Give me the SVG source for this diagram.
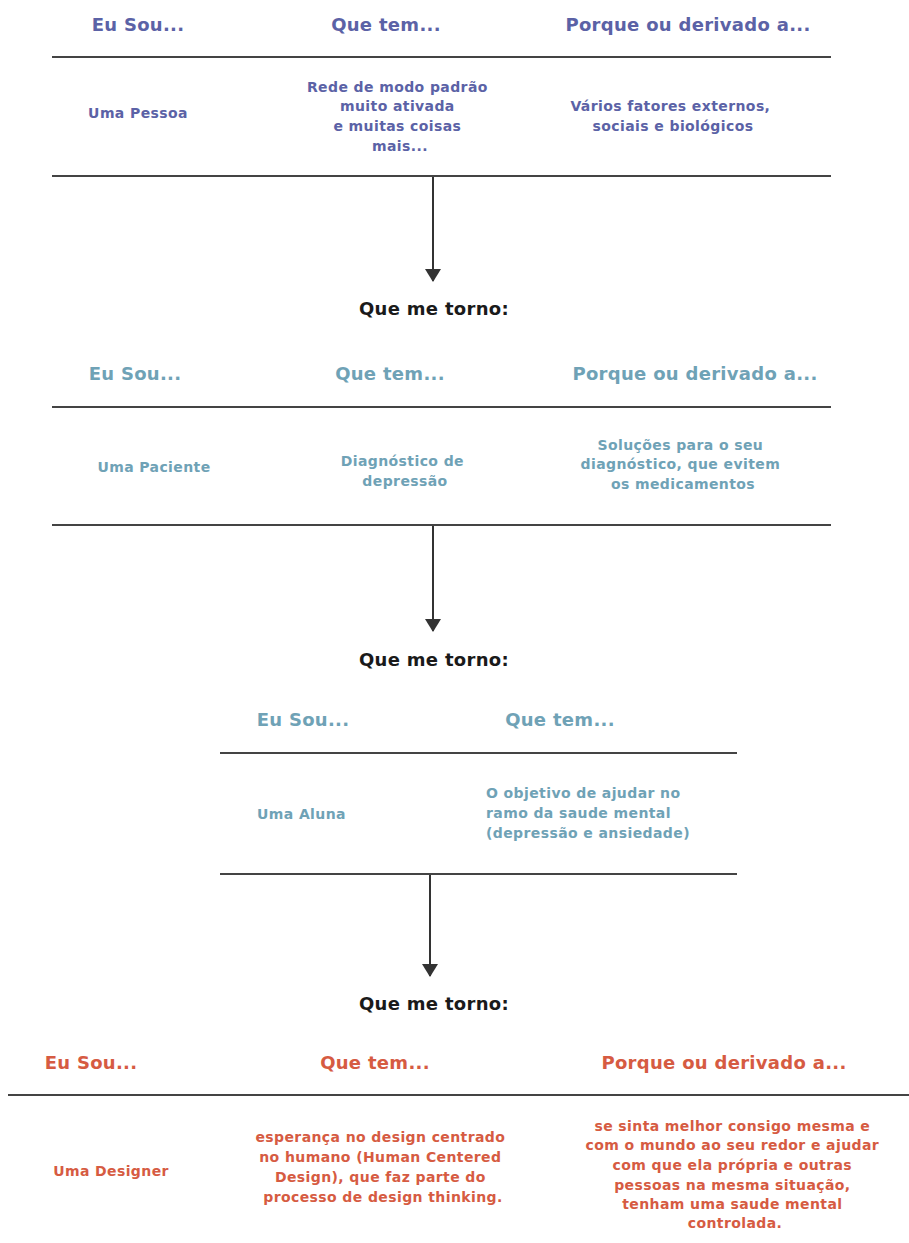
<svg xmlns="http://www.w3.org/2000/svg" width="909" height="1243" viewBox="0 0 909 1243">
  <style>
    text { font-family: "DejaVu Sans", "Liberation Sans", sans-serif; font-weight: bold; }
    .h { font-size: 18px; letter-spacing: 0.3px; }
    .b { font-size: 14px; letter-spacing: 0.4px; }
    .c { text-anchor: middle; }
    .blue { fill: #5b62a6; }
    .teal { fill: #6fa2b6; }
    .red { fill: #d65b42; }
    .step { font-size: 18px; letter-spacing: 0.3px; fill: #1a1a1a; text-anchor: middle; }
    .rule { stroke: #444; stroke-width: 2; }
    .arrow { stroke: #333; stroke-width: 2; fill: none; marker-end: url(#head); }
  </style>
  <defs>
    <!-- filled triangular head, drawn pointing along the line direction -->
    <marker id="head" viewBox="0 0 13 16" refX="12" refY="8" markerWidth="13" markerHeight="16" markerUnits="userSpaceOnUse" orient="auto">
      <path d="M0 0 L13 8 L0 16 Z" fill="#333"/>
    </marker>
  </defs>

  <rect width="909" height="1243" fill="#fff"/>

  <!-- Table 1: the person -->
  <g id="table-pessoa">
    <text class="h c blue" x="138" y="31">Eu Sou...</text>
    <text class="h c blue" x="386" y="31">Que tem...</text>
    <text class="h c blue" x="688" y="31">Porque ou derivado a...</text>
    <line class="rule" x1="52" y1="57" x2="831" y2="57"/>
    <text class="b c blue" x="138" y="118">Uma Pessoa</text>
    <text class="b c blue" x="400">
      <tspan x="400" y="92">Rede de modo padrão</tspan>
      <tspan x="400" y="111">muito ativada</tspan>
      <tspan x="400" y="131">e muitas coisas</tspan>
      <tspan x="400" y="151">mais...</tspan>
    </text>
    <text class="b c blue" x="673">
      <tspan x="673" y="111">Vários fatores externos,</tspan>
      <tspan x="673" y="131">sociais e biológicos</tspan>
    </text>
    <line class="rule" x1="52" y1="176" x2="831" y2="176"/>
  </g>

  <!-- Table 2: the patient -->
  <g id="table-paciente">
    <text class="h c teal" x="135" y="380">Eu Sou...</text>
    <text class="h c teal" x="390" y="380">Que tem...</text>
    <text class="h c teal" x="695" y="380">Porque ou derivado a...</text>
    <line class="rule" x1="52" y1="407" x2="831" y2="407"/>
    <text class="b c teal" x="154" y="472">Uma Paciente</text>
    <text class="b c teal" x="405">
      <tspan x="405" y="466">Diagnóstico de</tspan>
      <tspan x="405" y="486">depressão</tspan>
    </text>
    <text class="b c teal" x="683">
      <tspan x="683" y="450">Soluções para o seu</tspan>
      <tspan x="683" y="469">diagnóstico, que evitem</tspan>
      <tspan x="683" y="489">os medicamentos</tspan>
    </text>
    <line class="rule" x1="52" y1="525" x2="831" y2="525"/>
  </g>

  <!-- Table 3: the student -->
  <g id="table-aluna">
    <text class="h c teal" x="303" y="726">Eu Sou...</text>
    <text class="h c teal" x="560" y="726">Que tem...</text>
    <line class="rule" x1="220" y1="753" x2="737" y2="753"/>
    <text class="b teal" x="257" y="819">Uma Aluna</text>
    <text class="b teal" x="486">
      <tspan x="486" y="798">O objetivo de ajudar no</tspan>
      <tspan x="486" y="818">ramo da saude mental</tspan>
      <tspan x="486" y="838">(depressão e ansiedade)</tspan>
    </text>
    <line class="rule" x1="220" y1="874" x2="737" y2="874"/>
  </g>

  <!-- Table 4: the designer -->
  <g id="table-designer">
    <text class="h c red" x="91" y="1069">Eu Sou...</text>
    <text class="h c red" x="375" y="1069">Que tem...</text>
    <text class="h c red" x="724" y="1069">Porque ou derivado a...</text>
    <line class="rule" x1="8" y1="1095" x2="909" y2="1095"/>
    <text class="b c red" x="111" y="1176">Uma Designer</text>
    <text class="b c red" x="383">
      <tspan x="383" y="1142">esperança no design centrado</tspan>
      <tspan x="383" y="1162">no humano (Human Centered</tspan>
      <tspan x="383" y="1182">Design), que faz parte do</tspan>
      <tspan x="383" y="1202">processo de design thinking.</tspan>
    </text>
    <text class="b c red" x="735">
      <tspan x="735" y="1131">se sinta melhor consigo mesma e</tspan>
      <tspan x="735" y="1150">com o mundo ao seu redor e ajudar</tspan>
      <tspan x="735" y="1170">com que ela própria e outras</tspan>
      <tspan x="735" y="1190">pessoas na mesma situação,</tspan>
      <tspan x="735" y="1209">tenham uma saude mental</tspan>
      <tspan x="735" y="1228">controlada.</tspan>
    </text>
  </g>

  <!-- Step labels -->
  <g id="step-1"><text class="step" x="434" y="315">Que me torno:</text></g>
  <g id="step-2"><text class="step" x="434" y="666">Que me torno:</text></g>
  <g id="step-3"><text class="step" x="434" y="1010">Que me torno:</text></g>

  <!-- Connectors -->
  <g id="connectors">
    <line class="arrow" x1="433" y1="177" x2="433" y2="281"/>
    <line class="arrow" x1="433" y1="526" x2="433" y2="631"/>
    <line class="arrow" x1="430" y1="875" x2="430" y2="976"/>
  </g>
</svg>
